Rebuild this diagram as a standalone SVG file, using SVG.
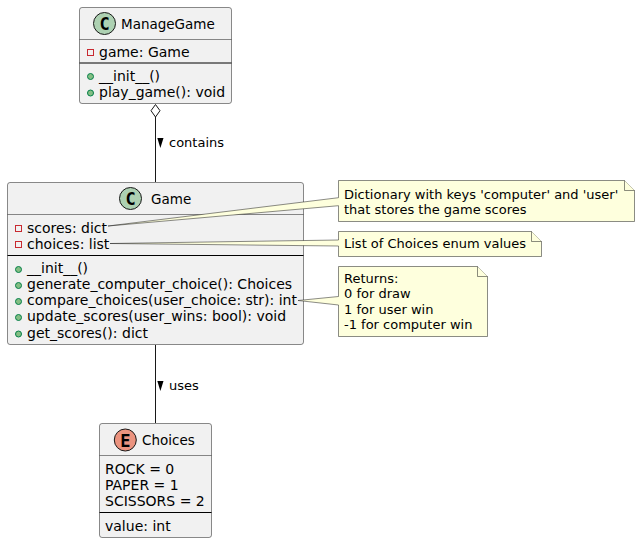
<svg xmlns="http://www.w3.org/2000/svg" width="640" height="543" viewBox="0 0 640 543">
<style>
text{font-family:"DejaVu Sans",sans-serif;font-size:14px;fill:#000}
text.t{font-size:13.5px}
text.s{font-size:13px}
.box{fill:#F1F1F1;stroke:#181818;stroke-width:.5}
.div{stroke:#181818;stroke-width:.5;fill:none}
.sep{stroke:#000;stroke-width:1;fill:none}
.conn{stroke:#181818;stroke-width:1;fill:none}
.note{fill:#FEFFDD;stroke:#181818;stroke-width:.5}
.priv{fill:none;stroke:#C82930;stroke-width:1}
.pub{fill:#84BE84;stroke:#038048;stroke-width:1}
.cc{fill:#ADD1B2;stroke:#181818;stroke-width:1}
.ce{fill:#EB937F;stroke:#181818;stroke-width:1}
text.ci{font-family:"DejaVu Sans Mono",monospace;font-weight:bold;font-size:17px;text-anchor:middle}
</style>
<g id="connectors">
<path class="conn" d="M155.500 117V182"/>
<path d="M155.500 104.500L151 110.700L155.500 117L160 110.700Z" fill="#fff" stroke="#181818" stroke-width="1"/>
<path d="M157.300 138H163.500L160.400 148Z" fill="#000"/>
<text class="s" x="169" y="147">contains</text>
<path class="conn" d="M155.500 345V423"/>
<path d="M157.300 381H163.500L160.400 391Z" fill="#000"/>
<text class="s" x="169" y="390">uses</text>
</g>
<g id="ManageGame">
<rect class="box" x="79.500" y="7.500" width="152" height="96" rx="2.500"/>
<path class="div" d="M79.500 39.500H231.500"/>
<path class="sep" d="M79.500 63H231.500"/>
<circle class="cc" cx="104.500" cy="23.500" r="11"/>
<text class="ci" x="104.500" y="30">C</text>
<text class="t" x="121" y="28.500">ManageGame</text>
<rect class="priv" x="87.500" y="49.500" width="6" height="6"/>
<text x="99" y="57">game: Game</text>
<circle class="pub" cx="90.500" cy="76.500" r="3"/>
<text x="99" y="81">__init__()</text>
<circle class="pub" cx="90.500" cy="93" r="3"/>
<text x="99" y="97">play_game(): void</text>
</g>
<g id="Game">
<rect class="box" x="7.500" y="182.500" width="296" height="162" rx="2.500"/>
<path class="div" d="M7.500 214.500H303.500"/>
<path class="sep" d="M7.500 255.500H303.500"/>
<circle class="cc" cx="130.500" cy="198.500" r="11"/>
<text class="ci" x="130.500" y="205">C</text>
<text class="t" x="151" y="204">Game</text>
<rect class="priv" x="15.500" y="225.500" width="6" height="6"/>
<text x="27" y="233">scores: dict</text>
<rect class="priv" x="15.500" y="241.500" width="6" height="6"/>
<text x="27" y="249">choices: list</text>
<circle class="pub" cx="18.500" cy="269.500" r="3"/>
<text x="27" y="273">__init__()</text>
<circle class="pub" cx="18.500" cy="285.500" r="3"/>
<text x="27" y="289">generate_computer_choice(): Choices</text>
<circle class="pub" cx="18.500" cy="301.500" r="3"/>
<text x="27" y="305">compare_choices(user_choice: str): int</text>
<circle class="pub" cx="18.500" cy="317.500" r="3"/>
<text x="27" y="321">update_scores(user_wins: bool): void</text>
<circle class="pub" cx="18.500" cy="334" r="3"/>
<text x="27" y="338">get_scores(): dict</text>
</g>
<g id="Choices">
<rect class="box" x="99.500" y="423.500" width="112" height="114" rx="2.500"/>
<path class="div" d="M99.500 455.500H211.500"/>
<path class="sep" d="M99.500 512.500H211.500"/>
<circle class="ce" cx="125.300" cy="440" r="11"/>
<text class="ci" x="125.300" y="446.500">E</text>
<text class="t" x="142" y="445">Choices</text>
<text x="105" y="474">ROCK = 0</text>
<text x="105" y="490">PAPER = 1</text>
<text x="105" y="506">SCISSORS = 2</text>
<text x="105" y="531">value: int</text>
</g>
<g id="note-scores">
<path class="note" d="M338.500 180.500H624.500L634.500 190.500V221.500H338.500V205.700L108 226L338.500 197.700Z"/>
<path class="note" d="M624.500 180.500V190.500H634.500"/>
<text class="s" x="344" y="198.500">Dictionary with keys 'computer' and 'user'</text>
<text class="s" x="344" y="213.500">that stores the game scores</text>
</g>
<g id="note-choices">
<path class="note" d="M338.500 231.500H531.500L541.500 241.500V256.500H338.500V246L110 243.500L338.500 240Z"/>
<path class="note" d="M531.500 231.500V241.500H541.500"/>
<text class="s" x="344" y="248">List of Choices enum values</text>
</g>
<g id="note-returns">
<path class="note" d="M338.500 266.500H477.500L487.500 276.500V336.500H338.500V305L298 300.500L338.500 296.500Z"/>
<path class="note" d="M477.500 266.500V276.500H487.500"/>
<text class="s" x="344" y="282.500">Returns:</text>
<text class="s" x="344" y="298">0 for draw</text>
<text class="s" x="344" y="314">1 for user win</text>
<text class="s" x="344" y="329">-1 for computer win</text>
</g>
</svg>
